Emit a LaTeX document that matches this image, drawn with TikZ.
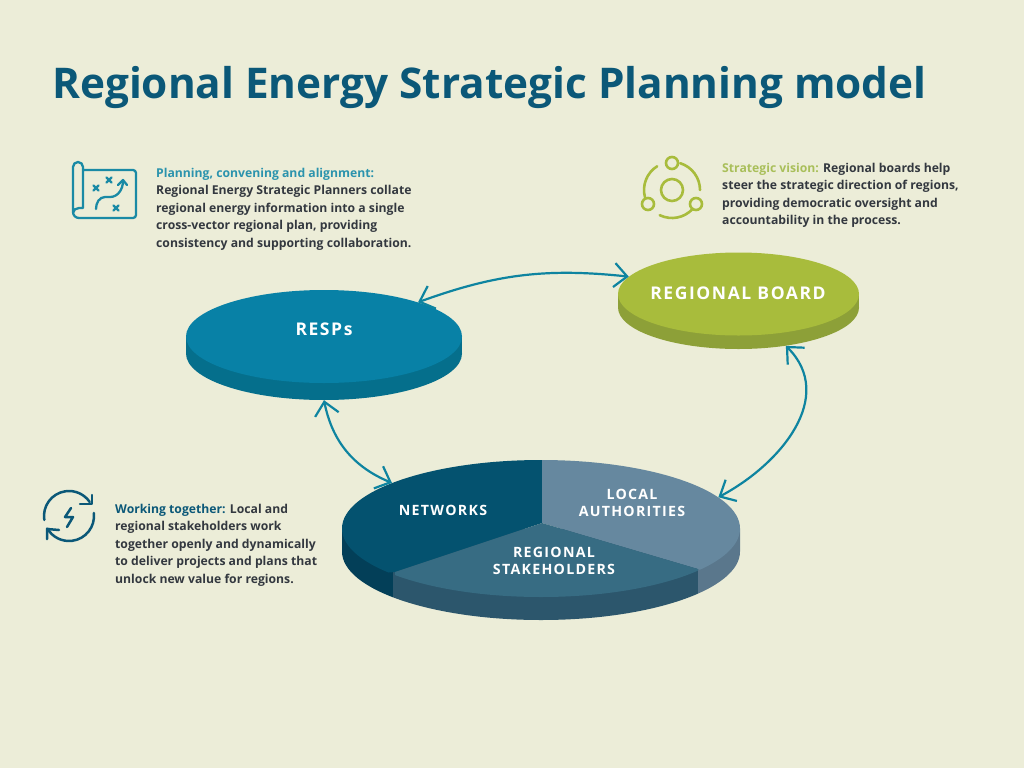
\documentclass[tikz,border=0pt]{standalone}
\usepackage{xcolor}
\usepackage{fontspec}
\usepackage{tikz}
\usetikzlibrary{arrows.meta,shapes.geometric}
\setmainfont{Open Sans}
\newfontfamily\capsfont[LetterSpace=9]{Open Sans}
\definecolor{paper}{HTML}{ECEDD8}
\definecolor{titleblue}{HTML}{0B5878}
\definecolor{bodyink}{HTML}{33383F}
\definecolor{respblue}{HTML}{0881A6}
\definecolor{respside}{HTML}{056F8C}
\definecolor{planteal}{HTML}{2B93AD}
\definecolor{mapteal}{HTML}{1A8AA5}
\definecolor{boardgreen}{HTML}{A8BC3C}
\definecolor{visiongreen}{HTML}{A9BF5A}
\definecolor{boardside}{HTML}{8DA038}
\definecolor{netblue}{HTML}{04526F}
\definecolor{netside}{HTML}{033F58}
\definecolor{stakeblue}{HTML}{376C83}
\definecolor{stakeside}{HTML}{2C566C}
\definecolor{localblue}{HTML}{66889F}
\definecolor{localside}{HTML}{5A778C}
\definecolor{linkblue}{HTML}{0E84A0}
\tikzset{
  blurb/.style={anchor=north west,align=left,inner sep=0pt,text=bodyink,font=\fontsize{12.2}{17.4}\selectfont\bfseries},
  disclabel/.style={align=center,text=white,font=\fontsize{14.2}{17.5}\selectfont\capsfont\bfseries},
  boardlabelstyle/.style={text=white,font=\fontsize{17.5}{18}\selectfont\capsfont\bfseries},
  topdisc/.style={ellipse,inner sep=0pt,minimum width=#1},
  link/.style={draw=linkblue,line width=2.2pt,{Straight Barb[length=13pt,width=24pt]}-{Straight Barb[length=13pt,width=24pt]}},
}
\begin{document}
\begin{tikzpicture}[x=1pt,y=-1pt]
  % Page and title
  \fill[paper] (0,0) rectangle (1024,768);
  \node[anchor=west,inner sep=0pt,text=titleblue,font=\fontsize{42.3}{44}\selectfont\bfseries] (title) at (52,88) {Regional Energy Strategic Planning model};

  % Text blocks
  \node[blurb] (plantext) at (156,168) {\textcolor{planteal}{Planning, convening and alignment:}\\Regional Energy Strategic Planners collate\\regional energy information into a single\\cross-vector regional plan, providing\\consistency and supporting collaboration.};
  \node[blurb] (visiontext) at (722,163) {\textcolor{visiongreen}{Strategic vision:} Regional boards help\\steer the strategic direction of regions,\\providing democratic oversight and\\accountability in the process.};
  \node[blurb] (worktext) at (115,504) {\textcolor{titleblue}{Working together:} Local and\\regional stakeholders work\\together openly and dynamically\\to deliver projects and plans that\\unlock new value for regions.};

  % RESPs disc
  \node[topdisc=276pt,minimum height=93pt,fill=respside] (respsbase) at (324,353.5) {};
  \fill[respside] (186,336.5) rectangle (462,353.5);
  \node[topdisc=276pt,minimum height=93pt,fill=respblue] (resps) at (324,336.5) {};
  \node[boardlabelstyle] (respslabel) at (324,329) {RESPs};

  % Regional board disc
  \node[topdisc=241pt,minimum height=83pt,fill=boardside] (boardbase) at (738.5,307.5) {};
  \fill[boardside] (618,294) rectangle (859,307.5);
  \node[topdisc=241pt,minimum height=83pt,fill=boardgreen] (board) at (738.5,294) {};
  \node[boardlabelstyle] (boardlabel) at (738,293) {REGIONAL BOARD};

  % Split disc: side first, then the three sectors
  \node[topdisc=398pt,minimum height=137pt] (discbase) at (541,551.5) {};
  \begin{scope}
    \clip (342,528.5) -- (342,551.5) arc (180:0:199 and 68.5) -- (740,528.5) -- cycle;
    \fill[netside] (340,500) rectangle (393,630);
    \fill[stakeside] (393,500) rectangle (698,630);
    \fill[localside] (698,500) rectangle (745,630);
  \end{scope}
  \node[topdisc=398pt,minimum height=137pt] (disc) at (541,528.5) {};
  \begin{scope}
    \clip (541,528.5) ellipse (199 and 68.5);
    \fill[netblue] (542,523) -- (542,450) -- (330,450) -- (330,577) -- (395,572) -- cycle;
    \fill[localblue] (542,523) -- (542,450) -- (750,450) -- (750,590) -- (698,569) -- cycle;
    \fill[stakeblue] (542,523) -- (395,572) -- (395,610) -- (698,610) -- (698,569) -- cycle;
  \end{scope}
  \node[disclabel] (netlabel) at (443,510) {NETWORKS};
  \node[disclabel] (locallabel) at (632,503) {LOCAL\\AUTHORITIES};
  \node[disclabel] (stakelabel) at (554,561) {REGIONAL\\STAKEHOLDERS};

  % Links between the discs
  \draw[link] (resps.20) to[bend left=13] (board.171.6);
  \draw[link] (respsbase.-90) to[bend right=28] (disc.163);
  \draw[link] (boardbase.-39.5) to[out=-45,in=28,looseness=1.1] (disc.10);

  % Map icon
  \begin{scope}[draw=mapteal,line width=2.3pt,line cap=round,line join=round]
    \draw (83,170) -- (133,170) to[out=0,in=90] (136,173) -- (136,215) to[out=-90,in=0] (133,218) -- (79,218) to[out=180,in=-90] (73,212) -- (73,167) to[out=90,in=180] (78,162) to[out=0,in=90] (83,167) -- (83,208) -- (79,208) to[out=180,in=90] (73,213);
    \draw (96,209) to[out=90,in=180] (105,197) -- (110,197) to[out=0,in=-90] (123,181);
    \draw (118,185) -- (123,180) -- (127,185);
    \foreach \px/\py in {96/188,109/180,116/208} {
      \draw (\px-2.5,\py-2.5) -- (\px+2.5,\py+2.5) (\px-2.5,\py+2.5) -- (\px+2.5,\py-2.5);
    }
  \end{scope}

  % Vision icon
  \begin{scope}[draw=boardgreen,line width=2.6pt,line cap=round]
    \draw (672,190) circle (11);
    \draw (672,163) circle (6) (648,204) circle (6) (696,204) circle (6);
    \draw (672,190) ++(-73:28) arc (-73:0:28);
    \draw (672,190) ++(42:28) arc (42:116:28);
    \draw (672,190) ++(165:28) arc (165:238:28);
  \end{scope}

  % Exchange icon
  \begin{scope}[draw=titleblue,line width=2.5pt,line cap=round,line join=round]
    \draw (69,516) ++(171:25) arc (171:326:25);
    \draw (92,495) -- (92,504) -- (80,504);
    \draw (69,516) ++(-7:25) arc (-7:150:25);
    \draw (47,539) -- (47,529) -- (59,530);
    \draw (71,508) -- (65,517) -- (73,517) -- (67,527);
  \end{scope}
\end{tikzpicture}
\end{document}
